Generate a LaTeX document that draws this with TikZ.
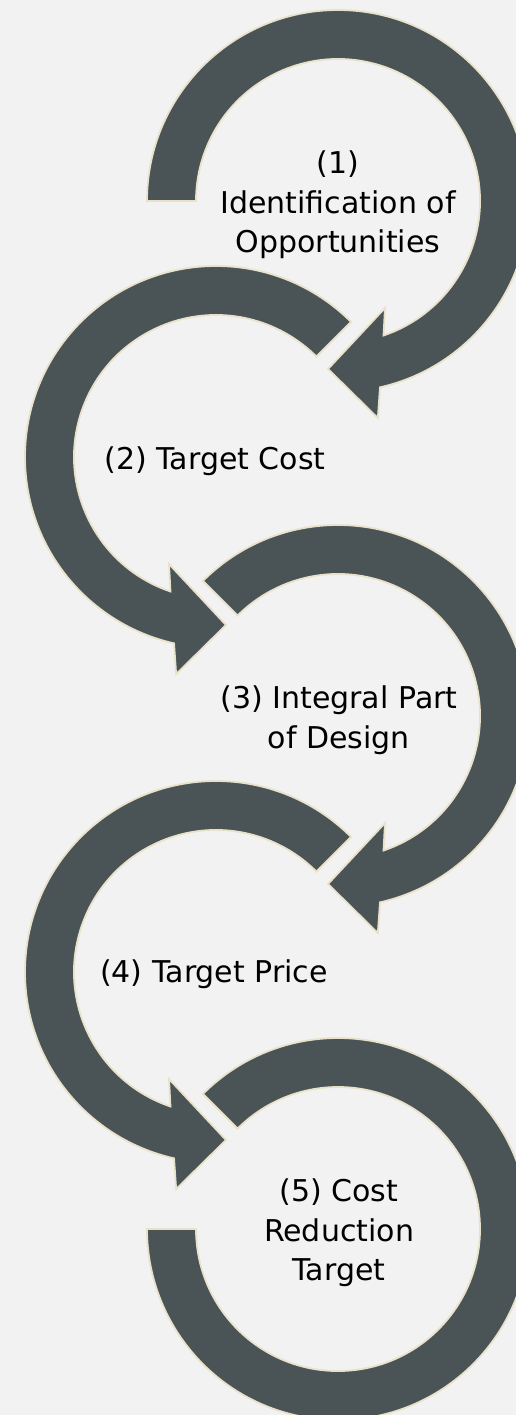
\documentclass[tikz,border=0pt]{standalone}
\usepackage{fontspec}
\setmainfont{DejaVu Sans}
\definecolor{bgpaper}{HTML}{F2F2F2}
\definecolor{ringfill}{HTML}{4A5356}
\definecolor{ringedge}{HTML}{E9E2CB}
\tikzset{
  ring/.style={fill=ringfill, draw=ringedge, line width=1.8pt, line join=miter},
  steplabel/.style={align=center, text=black, inner sep=0pt,
    font=\fontsize{30}{39.5}\selectfont},
}
\begin{document}
\begin{tikzpicture}[x=1pt, y=1pt]
  % canvas
  \fill[bgpaper] (0,0) rectangle (516,-1415);
  \useasboundingbox (0,0) rectangle (516,-1415);
  \clip (0,0) rectangle (516,-1415);

  % ring centres
  \coordinate (c1) at (338,-201);
  \coordinate (c2) at (216,-457);
  \coordinate (c3) at (338,-716);
  \coordinate (c4) at (216,-972);
  \coordinate (c5) at (338,-1229);

  % (1) clockwise ring, flat tail on the left
  \fill[ring, shift={(c1)}]
    (180:191) arc[start angle=180, end angle=-77.3, radius=191]
    -- (-79.6:220.7) -- (-93.4:168.3) -- (-66.3:116.9) -- (-71.3:142)
    arc[start angle=-71.3, end angle=180, radius=142] -- cycle;

  % (2) counter-clockwise ring
  \fill[ring, shift={(c2)}]
    (45:191) arc[start angle=45, end angle=257.3, radius=191]
    -- (259.6:220.7) -- (273.4:168.3) -- (246.3:116.9) -- (251.3:142)
    arc[start angle=251.3, end angle=45, radius=142] -- cycle;

  % (3) clockwise ring
  \fill[ring, shift={(c3)}]
    (135:191) arc[start angle=135, end angle=-77.3, radius=191]
    -- (-79.6:220.7) -- (-93.4:168.3) -- (-66.3:116.9) -- (-71.3:142)
    arc[start angle=-71.3, end angle=135, radius=142] -- cycle;

  % (4) counter-clockwise ring
  \fill[ring, shift={(c4)}]
    (45:191) arc[start angle=45, end angle=257.3, radius=191]
    -- (259.6:220.7) -- (273.4:168.3) -- (246.3:116.9) -- (251.3:142)
    arc[start angle=251.3, end angle=45, radius=142] -- cycle;

  % (5) closing ring without a head
  \fill[ring, shift={(c5)}]
    (135:191) arc[start angle=135, end angle=-180, radius=191]
    -- (180:142)
    arc[start angle=-180, end angle=135, radius=142] -- cycle;

  % labels
  \node[steplabel] (s1) at (338,-205) {(1)\\Identification of\\Opportunities};
  \node[steplabel] (s2) at (215,-461) {(2) Target Cost};
  \node[steplabel] (s3) at (339,-720) {(3) Integral Part\\of Design};
  \node[steplabel] (s4) at (214,-974) {(4) Target Price};
  \node[steplabel] (s5) at (339,-1233) {(5) Cost\\Reduction\\Target};
\end{tikzpicture}
\end{document}
